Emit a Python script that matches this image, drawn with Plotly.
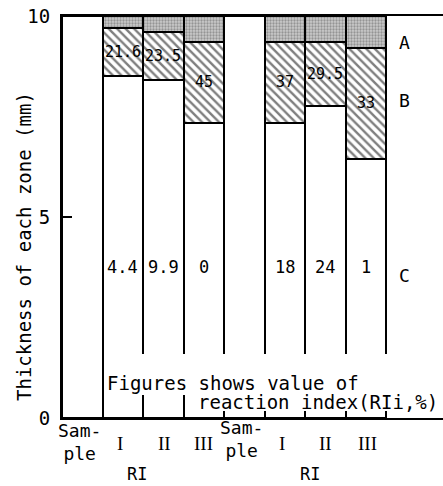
import plotly.graph_objects as go

# ---- data ----
categories = ["Sample-1", "RI-I-1", "RI-II-1", "RI-III-1",
              "Sample-2", "RI-I-2", "RI-II-2", "RI-III-2"]
tick_labels = ["Sam-<br>ple", "I", "II", "III", "Sam-<br>ple", "I", "II", "III"]
zone_C = [10, 8.5, 8.4, 7.35, 10, 7.35, 7.75, 6.45]
zone_B = [0, 1.2, 1.2, 2.0, 0, 2.0, 1.6, 2.75]
zone_A = [0, 0.3, 0.4, 0.65, 0, 0.65, 0.65, 0.8]
b_labels = ["", "21.6", "23.5", "45", "", "37", "29.5", "33"]
c_labels = ["", "4.4", "9.9", "0", "", "18", "24", "1"]
group_label = "RI"

MONO = "DejaVu Sans Mono, monospace"
SERIF = "Liberation Serif, DejaVu Serif, serif"
line = dict(color="black", width=2)

fig = go.Figure()
fig.add_trace(go.Bar(x=categories, y=zone_C, name="C",
                     marker=dict(color="white", line=line)))
fig.add_trace(go.Bar(x=categories, y=zone_B, name="B",
                     marker=dict(color="white", line=line,
                                 pattern=dict(shape="\\", fgcolor="black", bgcolor="white",
                                              size=6, solidity=0.4))))
fig.add_trace(go.Bar(x=categories, y=zone_A, name="A",
                     marker=dict(color="#c4c4c4", line=line,
                                 pattern=dict(shape=".", fgcolor="#5e5e5e", bgcolor="#cacaca",
                                              size=3, solidity=0.45))))

W, H = 443, 486
L, T, B = 62, 16, 68
PW, PH = W - L, H - T - B


def px(xp):
    return (xp - L) / PW


def py(yp):
    return (H - B - yp) / PH


ann = []
# values inside B zone
for i, (c, b, t) in enumerate(zip(zone_C, zone_B, b_labels)):
    if t:
        ann.append(dict(x=i, y=c + b / 2, text=t, showarrow=False, xref="x", yref="y",
                        font=dict(family=MONO, size=15, color="black")))
# values in C zone
for i, t in enumerate(c_labels):
    if t:
        ann.append(dict(x=i, y=3.75, text=t, showarrow=False, xref="x", yref="y",
                        font=dict(family=MONO, size=17, color="black")))

# category labels under axis (offsets relative to bar index)
label_offsets = [-0.06, -0.07, 0.04, 0.0, -0.08, -0.07, -0.01, 0.03]
label_y = [442, 443, 443, 443, 439, 443, 443, 443]
for i, (t, off, yl) in enumerate(zip(tick_labels, label_offsets, label_y)):
    is_roman = "Sam" not in t
    ann.append(dict(x=i + off, y=py(yl), text=t, showarrow=False, xref="x", yref="paper",
                    yanchor="middle", xanchor="center",
                    font=dict(family=SERIF if is_roman else MONO,
                              size=19 if is_roman else 18, color="black")))
for xpos in [1.35, 5.62]:
    ann.append(dict(x=xpos, y=py(474), text=group_label, showarrow=False, xref="x",
                    yref="paper", yanchor="middle", xanchor="center",
                    font=dict(family=MONO, size=17, color="black")))

# zone letters on right
for letter, yp in [("A", 42), ("B", 100), ("C", 275)]:
    ann.append(dict(x=px(397), y=py(yp), text=letter, showarrow=False, xref="paper",
                    yref="paper", xanchor="left", yanchor="middle",
                    font=dict(family=MONO, size=18, color="black")))

# note text (white boxes cut the bar lines behind it)
shapes = [
    dict(type="rect", xref="paper", yref="paper", x0=px(104), x1=px(392),
         y0=py(395), y1=py(354), fillcolor="white", line=dict(width=0), layer="above"),
    dict(type="rect", xref="paper", yref="paper", x0=px(195), x1=px(443),
         y0=py(411), y1=py(395), fillcolor="white", line=dict(width=0), layer="above"),
]
ann.append(dict(x=px(105), y=py(383), xref="paper", yref="paper",
                xanchor="left", yanchor="middle", text="Figures shows value of",
                showarrow=False, font=dict(family=MONO, size=19, color="black")))
ann.append(dict(x=px(196), y=py(402), xref="paper", yref="paper",
                xanchor="left", yanchor="middle", text="reaction index(RIi,%)",
                showarrow=False, font=dict(family=MONO, size=19, color="black")))

# y-axis title
ann.append(dict(x=px(24), y=py(247), xref="paper", yref="paper",
                text="Thickness of each zone (mm)", showarrow=False, textangle=-90,
                xanchor="center", yanchor="middle",
                font=dict(family=MONO, size=19, color="black")))

fig.update_layout(
    width=W, height=H,
    margin=dict(l=L, r=0, t=T, b=B),
    barmode="stack", bargap=0,
    showlegend=False,
    plot_bgcolor="white", paper_bgcolor="white",
    annotations=ann, shapes=shapes,
    xaxis=dict(type="category", range=[-0.5, 8.9], showticklabels=False, ticks="",
               showline=True, linecolor="black", linewidth=2, mirror=True,
               showgrid=False, zeroline=False, automargin=False),
    yaxis=dict(range=[0, 10], tickvals=[0, 5, 10], ticktext=["0", "5", "10"],
               ticks="inside", ticklen=10, tickwidth=1.5, tickcolor="black",
               ticklabelstandoff=6, automargin=False,
               showline=True, linecolor="black", linewidth=2, showgrid=False,
               zeroline=False, tickfont=dict(family=MONO, size=19, color="black")),
)

fig.write_html("out.html", config={"displayModeBar": False},
               post_script="document.body.style.margin='0';document.body.style.overflow='hidden';")
